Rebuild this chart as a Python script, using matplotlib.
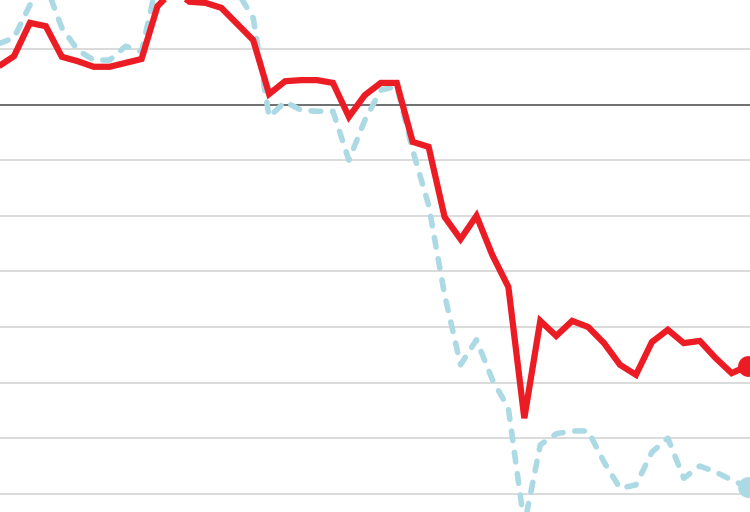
import matplotlib
matplotlib.use("Agg")
import matplotlib.pyplot as plt

plt.rcParams["lines.scale_dashes"] = False

# x positions (periods)
periods = list(range(48))

# solid red series (grid units of 10)
red_values = [6.8, 8.7, 14.7, 14.1, 8.6, 7.8, 6.8, 6.8, 7.5, 8.2,
              17.7, 20.6, 18.5, 18.3, 17.4, 14.5, 11.6, 1.9, 4.2, 4.4,
              4.4, 3.9, -2.2, 1.7, 3.9, 3.9, -6.7, -7.6, -20.2, -24.2,
              -20.0, -27.1, -32.8, -56.4, -38.9, -41.6, -38.9, -40.0, -42.9, -46.8,
              -48.6, -42.7, -40.5, -42.9, -42.5, -45.6, -48.3, -47.0]

# dashed blue series
blue_values = [10.9, 12.0, 17.9, 21.5, 13.8, 9.8, 8.0, 8.0, 10.5, 9.5,
               22.4, 26.0, 26.0, 24.2, 22.4, 20.3, 15.6, -2.2, 0.5, -1.0,
               -1.2, -1.2, -10.0, -2.8, 2.6, 3.3, -8.2, -18.1, -34.2, -46.8,
               -42.3, -49.5, -54.6, -75.6, -61.2, -59.2, -58.7, -58.7, -64.3, -69.0,
               -68.4, -62.5, -60.0, -67.2, -65.0, -66.1, -67.5, -68.8]

grid_levels = [10, -10, -20, -30, -40, -50, -60, -70]
baseline = 0

RED = "#EC1C24"
BLUE = "#ABD9E4"

fig = plt.figure(figsize=(7.5, 5.12), dpi=100)
ax = fig.add_axes([0, 0, 1, 1])
ax.set_xlim(0.125, 47.15)
ax.set_ylim(-73.27, 18.81)
for s in ax.spines.values():
    s.set_visible(False)
ax.set_xticks([])
ax.set_yticks([])

for g in grid_levels:
    ax.axhline(g, color="#DADADA", lw=1.4, zorder=1)
ax.axhline(baseline, color="#555555", lw=1.2, zorder=2)

bl, = ax.plot(periods, blue_values, color=BLUE, lw=4.0, zorder=3,
              dash_capstyle="round", dash_joinstyle="round")
bl.set_dashes([7.0, 8.5])
ax.plot(periods[-1:], blue_values[-1:], "o", color=BLUE, ms=15, mew=0, zorder=3, clip_on=False)

ax.plot(periods, red_values, color=RED, lw=4.5, zorder=4,
        solid_joinstyle="miter", solid_capstyle="butt")
ax.plot(periods[-1:], red_values[-1:], "o", color=RED, ms=15, mew=0, zorder=4, clip_on=False)

fig.savefig("out.png", dpi=100)
